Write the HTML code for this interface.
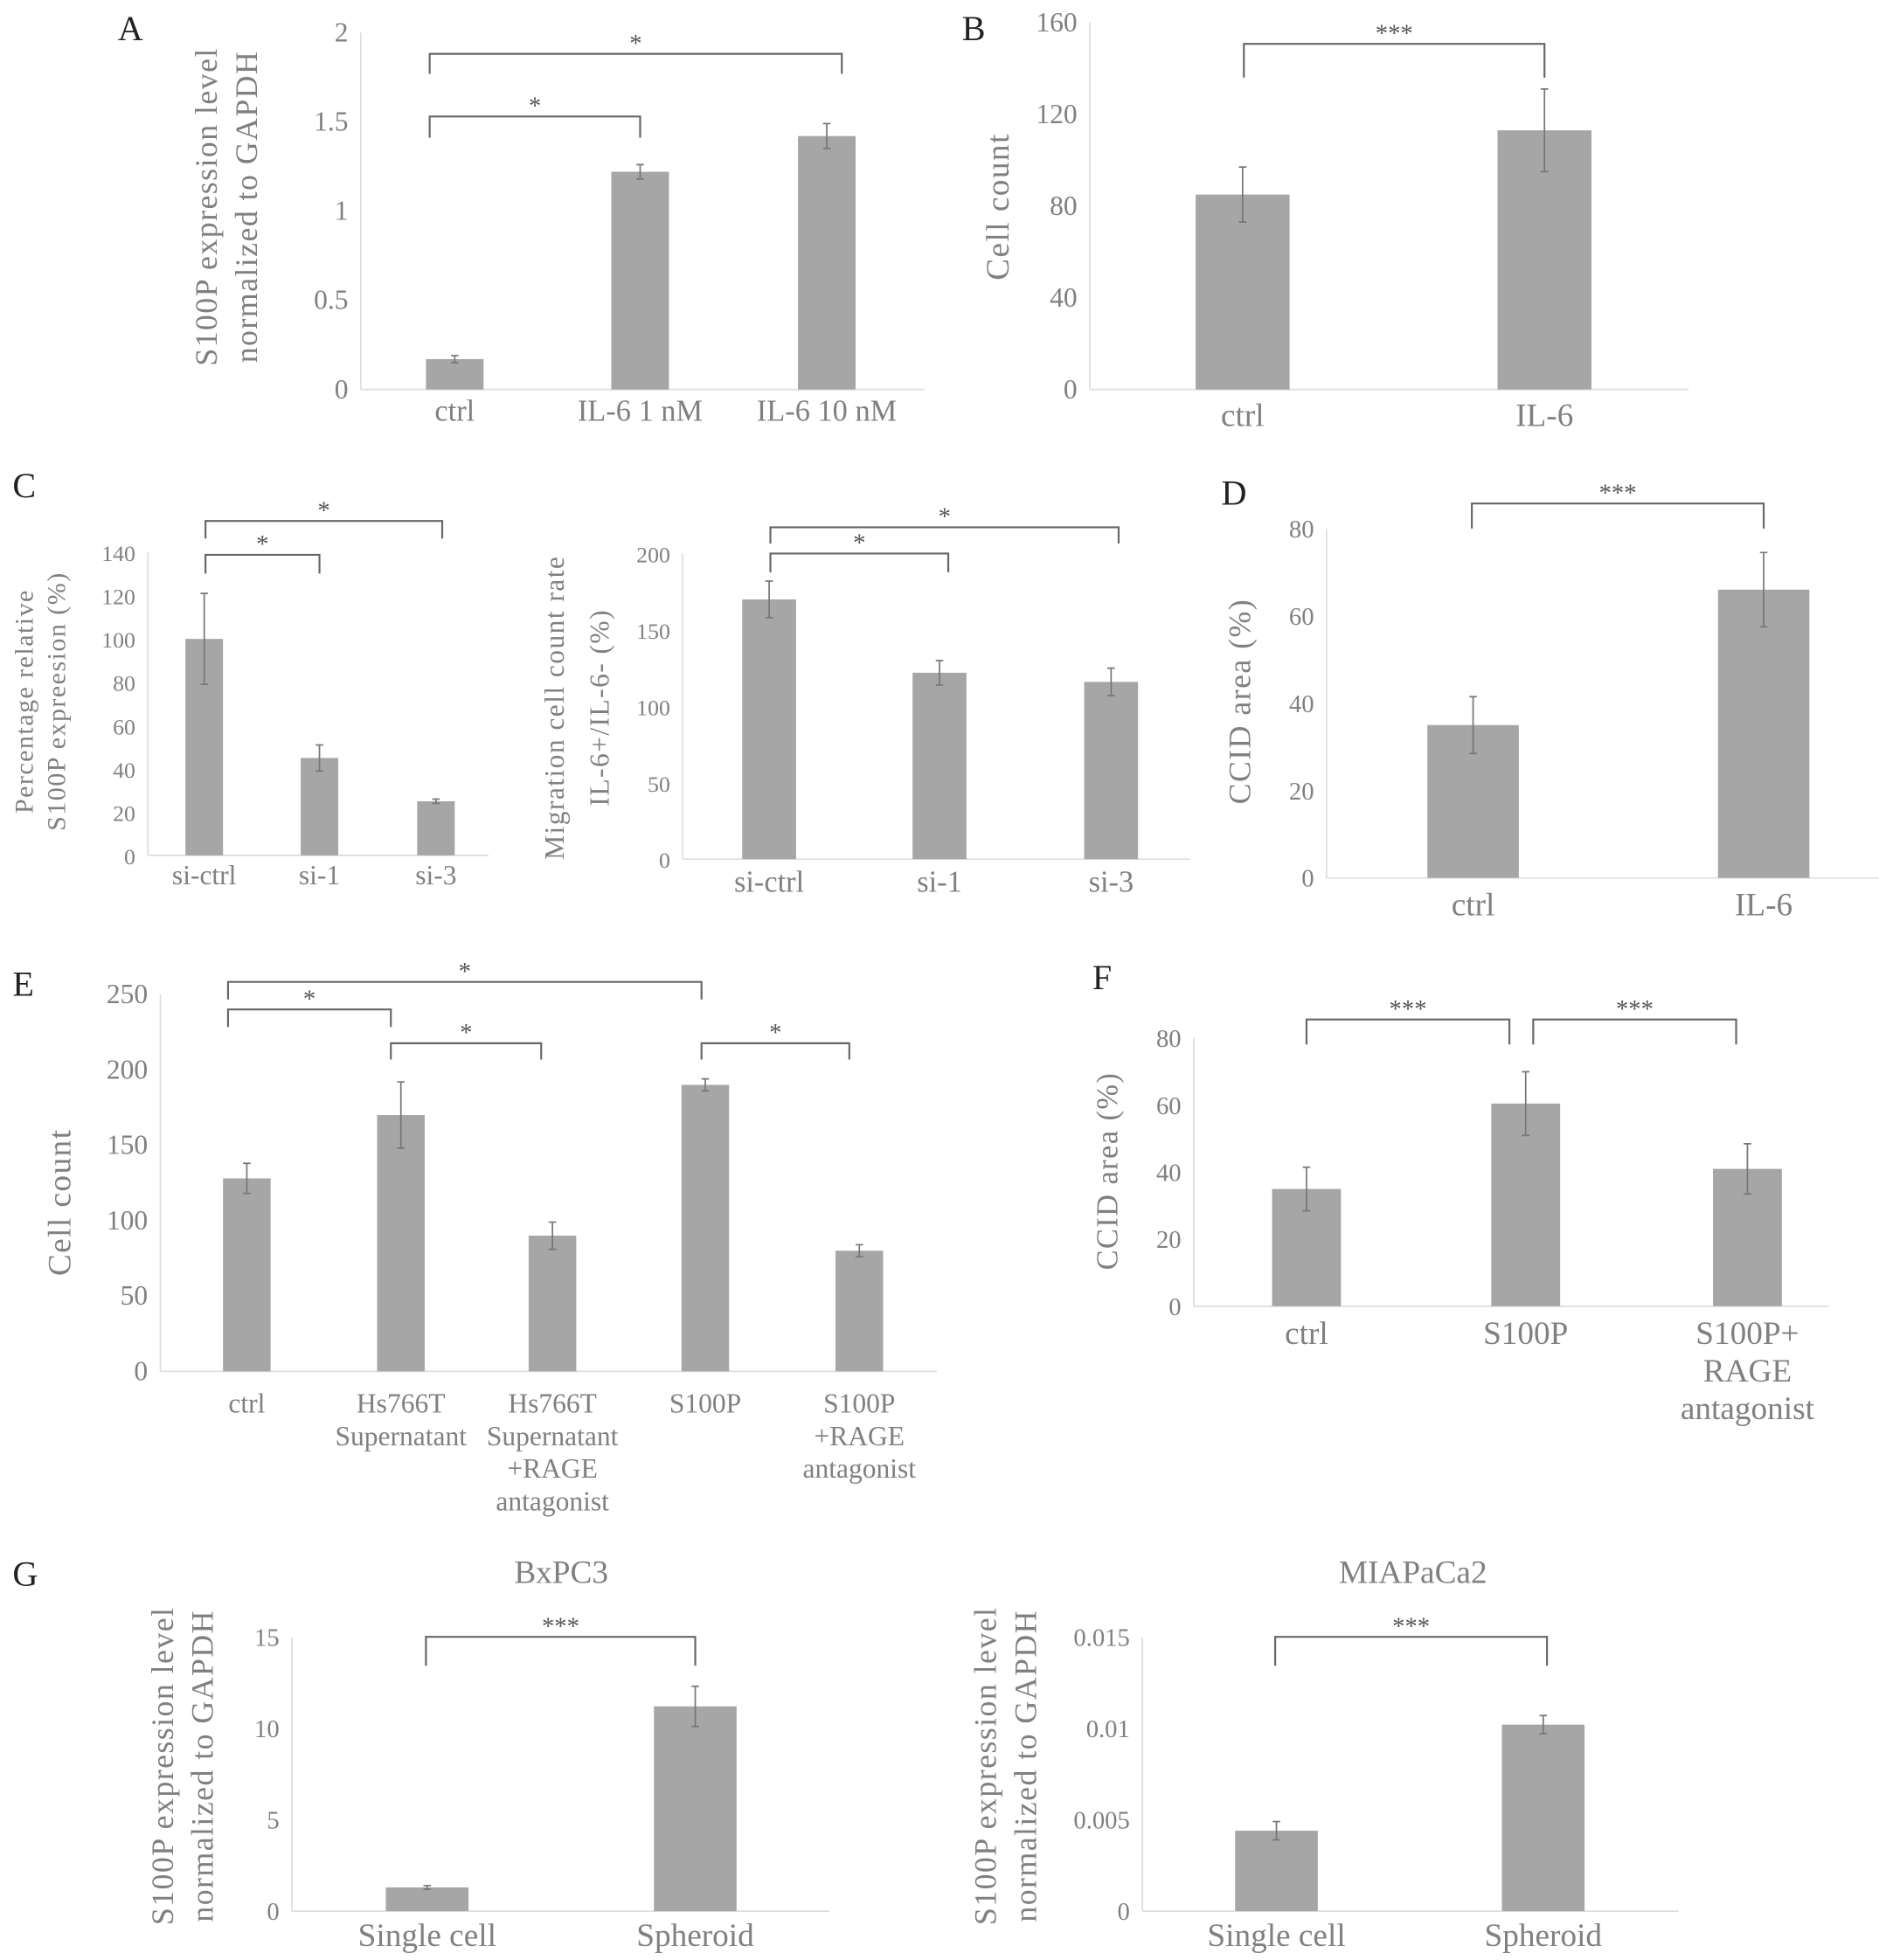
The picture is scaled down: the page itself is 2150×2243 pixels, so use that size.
<!DOCTYPE html>
<html><head><meta charset="utf-8"><style>
html,body{margin:0;padding:0;background:#fff}
svg{display:block}
text{font-family:"Liberation Serif",serif}
</style></head><body>
<svg id="fig" width="2150" height="2243" viewBox="0 0 1500 1565" xmlns="http://www.w3.org/2000/svg">
<g font-size="28" fill="#222">
<text x="94" y="32">A</text>
<text x="768" y="32">B</text>
<text x="10" y="397">C</text>
<text x="975" y="403">D</text>
<text x="10" y="795">E</text>
<text x="872" y="790">F</text>
<text x="10" y="1266">G</text>
</g>
<g font-size="26" fill="#808080" text-anchor="middle">
<text x="448" y="1264">BxPC3</text>
<text x="1128" y="1264">MIAPaCa2</text>
</g>
</svg>
<script>
// Panel A
const catsA = [["ctrl"],["IL-6 1 nM"],["IL-6 10 nM"]];
const valsA = [0.17, 1.22, 1.42];
const errsA = [0.02, 0.04, 0.07];
const ticksA = [0, 0.5, 1, 1.5, 2];
const tickLabelsA = ["0","0.5","1","1.5","2"];
// Panel B
const catsB = [["ctrl"],["IL-6"]];
const valsB = [85, 113];
const errsB = [12, 18];
const ticksB = [0, 40, 80, 120, 160];
const tickLabelsB = ["0","40","80","120","160"];
// Panel C left
const catsC1 = [["si-ctrl"],["si-1"],["si-3"]];
const valsC1 = [100, 45, 25];
const errsC1 = [21, 6, 1];
const ticksC1 = [0,20,40,60,80,100,120,140];
const tickLabelsC1 = ["0","20","40","60","80","100","120","140"];
// Panel C right
const catsC2 = [["si-ctrl"],["si-1"],["si-3"]];
const valsC2 = [170, 122, 116];
const errsC2 = [12, 8, 9];
const ticksC2 = [0,50,100,150,200];
const tickLabelsC2 = ["0","50","100","150","200"];
// Panel D
const catsD = [["ctrl"],["IL-6"]];
const valsD = [35, 66];
const errsD = [6.5, 8.5];
const ticksD = [0,20,40,60,80];
const tickLabelsD = ["0","20","40","60","80"];
// Panel E
const catsE = [["ctrl"],["Hs766T","Supernatant"],["Hs766T","Supernatant","+RAGE","antagonist"],["S100P"],["S100P","+RAGE","antagonist"]];
const valsE = [128, 170, 90, 190, 80];
const errsE = [10, 22, 9, 4, 4];
const ticksE = [0,50,100,150,200,250];
const tickLabelsE = ["0","50","100","150","200","250"];
// Panel F
const catsF = [["ctrl"],["S100P"],["S100P+","RAGE","antagonist"]];
const valsF = [35, 60.5, 41];
const errsF = [6.5, 9.5, 7.5];
const ticksF = [0,20,40,60,80];
const tickLabelsF = ["0","20","40","60","80"];
// Panel G BxPC3
const catsG1 = [["Single cell"],["Spheroid"]];
const valsG1 = [1.3, 11.2];
const errsG1 = [0.1, 1.1];
const ticksG1 = [0,5,10,15];
const tickLabelsG1 = ["0","5","10","15"];
// Panel G MIAPaCa2
const catsG2 = [["Single cell"],["Spheroid"]];
const valsG2 = [0.0044, 0.0102];
const errsG2 = [0.0005, 0.0005];
const ticksG2 = [0,0.005,0.01,0.015];
const tickLabelsG2 = ["0","0.005","0.01","0.015"];

const NS = "http://www.w3.org/2000/svg";
const svg = document.getElementById("fig");
function mk(tag, attrs, parent){
  const e = document.createElementNS(NS, tag);
  for (const k in attrs) e.setAttribute(k, attrs[k]);
  (parent||svg).appendChild(e);
  return e;
}
function drawPanel(p){
  const g = mk("g", {});
  
  
  const max = p.ticks[p.ticks.length-1];
  const y = v => p.yBase - (v/max)*(p.yBase - p.yTop);
  const ax = mk("line", {x1:p.x0, y1:p.yTop, x2:p.x0, y2:p.yBase, stroke:"#dedede", "stroke-width":1.2}, g);
  
  
  const bx = mk("line", {x1:p.x0, y1:p.yBase, x2:p.xEnd, y2:p.yBase, stroke:"#dedede", "stroke-width":1.2}, g);
  
  
  p.ticks.forEach((t,i)=>{
    const tl = mk("text", {x:p.x0-10, y:y(t)+7, "text-anchor":"end", "font-size":p.tickFs||22, fill:"#808080"}, g);
    tl.textContent = p.tickLabels[i];
    
    
  });
  p.vals.forEach((v,i)=>{
    const cx = p.centers[i];
    const r = mk("rect", {x:cx-p.barW/2, y:y(v), width:p.barW, height:p.yBase-y(v), fill:"#a6a6a6"}, g);
    
    
    const e = p.errs[i];
    const eb = mk("path", {d:`M${cx} ${y(v+e)}V${y(v-e)}M${cx-3} ${y(v+e)}h6M${cx-3} ${y(v-e)}h6`, stroke:"#777", "stroke-width":1.2, fill:"none"}, g);
    
    
    p.cats[i].forEach((line,j)=>{
      const t = mk("text", {x:cx, y:p.labY + j*p.labLh, "text-anchor":"middle", "font-size":p.catFs||24, fill:"#808080"}, g);
      t.textContent = line;
      
      
    });
  });
  p.title.forEach((line,j)=>{
    const tx = p.titleX[j];
    const t = mk("text", {x:tx, y:p.titleY, "text-anchor":"middle", "font-size":p.titleFs||25, fill:"#808080", "letter-spacing":"1", transform:`rotate(-90 ${tx} ${p.titleY})`}, g);
    t.textContent = line;
    
    
  });
  (p.brackets||[]).forEach(b=>{
    const br = mk("path", {d:`M${b[0]} ${b[3]}V${b[2]}H${b[1]}V${b[3]}`, stroke:"#666", "stroke-width":1.5, fill:"none"}, g);
    
    
    const s = mk("text", {x:(b[0]+b[1])/2, y:b[2]-2, "text-anchor":"middle", "font-size":20, fill:"#555"}, g);
    s.textContent = b[4];
    
    
  });
}
drawPanel({id:"a", x0:288, xEnd:738, yBase:311, yTop:26, ticks:ticksA, tickLabels:tickLabelsA, cats:catsA, vals:valsA, errs:errsA,
  centers:[363,511,660], barW:46, labY:336, labLh:26, title:["S100P expression level","normalized to GAPDH"], titleX:[173,205], titleY:165,
  brackets:[[343,511,93,110,"*"],[343,672,43,59,"*"]]});
drawPanel({id:"b", x0:870, xEnd:1348, yBase:311, yTop:18, ticks:ticksB, tickLabels:tickLabelsB, cats:catsB, vals:valsB, errs:errsB,
  centers:[992,1233], barW:75, labY:340, labLh:26, catFs:26, title:["Cell count"], titleX:[805], titleY:165, titleFs:26,
  brackets:[[993,1233,35,62,"***"]]});
drawPanel({id:"c-left", x0:118, xEnd:390, yBase:683, yTop:441, ticks:ticksC1, tickLabels:tickLabelsC1, cats:catsC1, vals:valsC1, errs:errsC1,
  centers:[163,255,348], barW:30, labY:706, labLh:24, tickFs:18, catFs:22, title:["Percentage relative","S100P expreesion (%)"], titleX:[26,52], titleY:560, titleFs:21,
  brackets:[[164,255,443,458,"*"],[164,353,416,430,"*"]]});
drawPanel({id:"c-right", x0:545, xEnd:950, yBase:686, yTop:442, ticks:ticksC2, tickLabels:tickLabelsC2, cats:catsC2, vals:valsC2, errs:errsC2,
  centers:[614,750,887], barW:43, labY:712, labLh:24, tickFs:18, title:["Migration cell count rate","IL-6+/IL-6- (%)"], titleX:[450,486], titleY:565, titleFs:22,
  brackets:[[615,757,442,457,"*"],[615,893,421,434,"*"]]});
drawPanel({id:"d", x0:1059, xEnd:1500, yBase:701, yTop:422, ticks:ticksD, tickLabels:tickLabelsD, cats:catsD, vals:valsD, errs:errsD,
  centers:[1176,1408], barW:73, labY:731, labLh:26, catFs:26, tickFs:20, title:["CCID area (%)"], titleX:[998], titleY:560,
  brackets:[[1175,1408,402,422,"***"]]});
drawPanel({id:"e", x0:128, xEnd:748, yBase:1095, yTop:794, ticks:ticksE, tickLabels:tickLabelsE, cats:catsE, vals:valsE, errs:errsE,
  centers:[197,320,441,563,686], barW:38, labY:1128, labLh:26, catFs:22, title:["Cell count"], titleX:[56], titleY:960, titleFs:26,
  brackets:[[182,560,784,798,"*"],[182,312,806,820,"*"],[312,432,833,846,"*"],[560,678,833,846,"*"]]});
drawPanel({id:"f", x0:953, xEnd:1460, yBase:1043, yTop:829, ticks:ticksF, tickLabels:tickLabelsF, cats:catsF, vals:valsF, errs:errsF,
  centers:[1043,1218,1395], barW:55, labY:1073, labLh:30, tickFs:20, catFs:26, title:["CCID area (%)"], titleX:[892], titleY:935, titleFs:24,
  brackets:[[1043,1205,814,834,"***"],[1224,1386,814,834,"***"]]});
drawPanel({id:"g-bxpc3", x0:233, xEnd:662, yBase:1526, yTop:1307, ticks:ticksG1, tickLabels:tickLabelsG1, cats:catsG1, vals:valsG1, errs:errsG1,
  centers:[341,555], barW:66, labY:1554, labLh:26, tickFs:20, catFs:26, title:["S100P expression level","normalized to GAPDH"], titleX:[138,170], titleY:1410,
  brackets:[[340,555,1307,1330,"***"]]});
drawPanel({id:"g-miapaca2", x0:912, xEnd:1340, yBase:1526, yTop:1307, ticks:ticksG2, tickLabels:tickLabelsG2, cats:catsG2, vals:valsG2, errs:errsG2,
  centers:[1019,1232], barW:66, labY:1554, labLh:26, tickFs:20, catFs:26, title:["S100P expression level","normalized to GAPDH"], titleX:[795,827], titleY:1410,
  brackets:[[1018,1235,1307,1330,"***"]]});
</script>
</body></html>
